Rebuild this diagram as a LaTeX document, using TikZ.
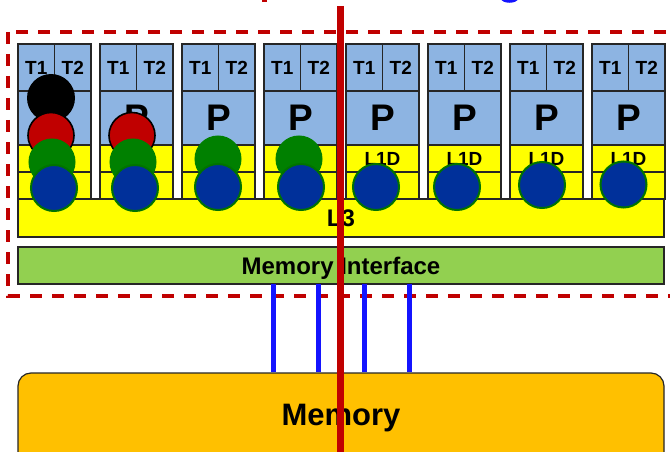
\documentclass[tikz,border=0pt]{standalone}
\usepackage{fontspec}
\setmainfont{Liberation Sans}
\usetikzlibrary{calc}
\definecolor{pblue}{RGB}{141,180,226}
\definecolor{cyel}{RGB}{255,255,0}
\definecolor{igreen}{RGB}{146,208,80}
\definecolor{memor}{RGB}{255,192,0}
\definecolor{dred}{RGB}{192,0,0}
\definecolor{cgreen}{RGB}{0,128,0}
\definecolor{cgreenedge}{RGB}{0,115,0}
\definecolor{cblue}{RGB}{0,48,154}
\definecolor{busblue}{RGB}{20,20,255}
\definecolor{edgegray}{RGB}{38,38,38}
\newcommand\fntT{\fontsize{19}{19}\selectfont\bfseries}
\newcommand\fntP{\fontsize{37}{37}\selectfont\bfseries}
\newcommand\fntL{\fontsize{19}{19}\selectfont\bfseries}
\newcommand\fntLthree{\fontsize{24}{24}\selectfont\bfseries}
\newcommand\fntMI{\fontsize{24}{24}\selectfont\bfseries}
\newcommand\fntMem{\fontsize{31}{31}\selectfont\bfseries}
\begin{document}
\begin{tikzpicture}[x=1pt,y=-1pt,
  cell/.style={draw=edgegray,line width=1.2pt,rectangle,inner sep=0pt,outer sep=0pt},
  circ/.style={circle,inner sep=0pt,minimum size=46pt},
  blackc/.style={circ,fill=black,minimum size=48pt},
  redc/.style={circ,fill=dred,draw=black,line width=1.6pt},
  greenc/.style={circ,fill=cgreen,draw=cgreen,line width=1pt},
  bluec/.style={circ,fill=cblue,draw=cgreenedge,line width=2pt},
  bus/.style={draw=busblue,line width=5pt},
  frame/.style={draw=dred,line width=3.5pt,dash pattern=on 12pt off 10pt},
  splitline/.style={draw=dred,line width=7pt}
]
\useasboundingbox (0,0) rectangle (670,452);
\clip (0,0) rectangle (670,452);
\fill[white] (0,0) rectangle (670,452);
% cut-off title fragments
\fill[dred] (262,-2) rectangle (266.5,1.8);
\draw[busblue,line width=2.5pt] (502,-2) arc[start angle=180,end angle=360,x radius=7.5,y radius=-3.5];
% dashed chip frame
\draw[frame] (8,32) rectangle (700,296);
% cores
\foreach \k in {0,...,7}{
  \pgfmathsetmacro\xo{18+82*\k}
  \node[cell,fill=pblue,minimum width=36.5pt,minimum height=47pt,font=\fntT] (ta\k) at (\xo+18.25,67.5) {T1};
  \node[cell,fill=pblue,minimum width=36.5pt,minimum height=47pt,font=\fntT] (tb\k) at (\xo+54.75,67.5) {T2};
  \node[cell,fill=pblue,minimum width=73pt,minimum height=54pt,font=\fntP] (p\k) at (\xo+36.5,118) {P};
  \node[cell,fill=cyel,minimum width=73pt,minimum height=27pt,font=\fntL] (la\k) at (\xo+36.5,158.5) {L1D};
  \node[cell,fill=cyel,minimum width=73pt,minimum height=27pt] (lb\k) at (\xo+36.5,185.5) {};
}
\node[cell,fill=cyel,minimum width=646pt,minimum height=38pt,font=\fntLthree] (l3) at (341,218) {L3};
\node[cell,fill=igreen,minimum width=646pt,minimum height=37pt,font=\fntMI,text depth=0pt] (mi) at (341,265.5) {Memory Interface};
% memory
\node[draw=edgegray,line width=1.2pt,fill=memor,rounded corners=13pt,minimum width=646pt,minimum height=110pt,inner sep=0pt] (mem) at (341,428) {};
\node[font=\fntMem,anchor=base,inner sep=0pt] (memt) at (341,425) {Memory};
% buses
\foreach \bx [count=\i] in {273,318,364,409}{
  \coordinate (bx\i) at (\bx,0);
  \draw[bus] (bx\i |- mi.south) -- (bx\i |- mem.north);
}
% thread circles
\node[blackc] (c1k) at (51,98) {};
\node[redc] (c1r) at (51,135.5) {};
\node[greenc] (c1g) at (52,162) {};
\node[bluec] (c1b) at (54,188) {};
\node[redc] (c2r) at (132,135.5) {};
\node[greenc] (c2g) at (133,162) {};
\node[bluec] (c2b) at (135,188) {};
\node[greenc] (c3g) at (218,159) {};
\node[bluec] (c3b) at (218,187) {};
\node[greenc] (c4g) at (299,159) {};
\node[bluec] (c4b) at (301,187) {};
\node[bluec] (c5b) at (376,187) {};
\node[bluec] (c6b) at (457,187) {};
\node[bluec] (c7b) at (542,185) {};
\node[bluec] (c8b) at (623.5,184.5) {};
% red split line
\coordinate (st) at (340.5,6);
\coordinate (sb) at (340.5,460);
\draw[splitline] (st) -- (sb);
\end{tikzpicture}
\end{document}
